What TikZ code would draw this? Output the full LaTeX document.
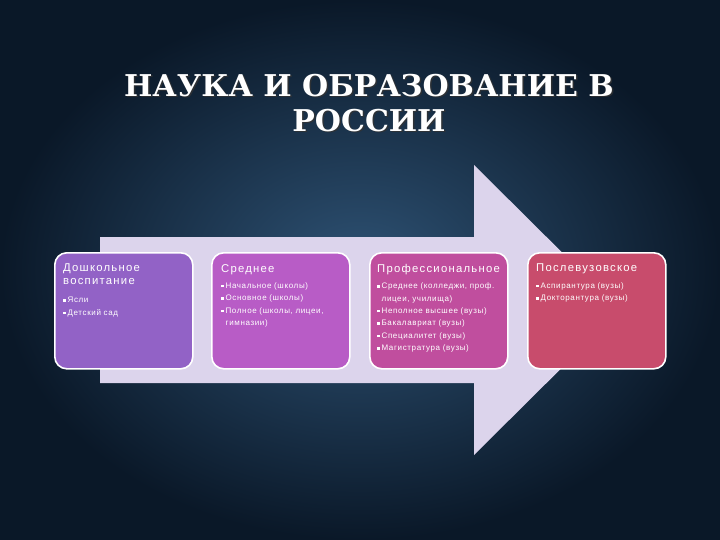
\documentclass[tikz,border=0pt]{standalone}
\usepackage{fontspec}
\setmainfont{Liberation Sans}
\newfontfamily\titlefont{DejaVu Serif}
\newfontfamily\itemfont[LetterSpace=8]{Liberation Sans}
\newfontfamily\headfont[LetterSpace=11]{Liberation Sans}
\usetikzlibrary{shadings}
\definecolor{bgin}{HTML}{2E5274}
\definecolor{bgout}{HTML}{0A1828}
\definecolor{arrowc}{HTML}{DCD4EC}
\definecolor{cA}{HTML}{9262C6}
\definecolor{cB}{HTML}{B85CC6}
\definecolor{cC}{HTML}{C04E9E}
\definecolor{cD}{HTML}{C84C6C}
\newcommand\bul{\rule[0.3ex]{2.4pt}{2.4pt}\hspace{2pt}}
\newcommand\hd{\headfont\fontsize{11.3pt}{15pt}\selectfont}
\tikzset{
  card/.style={draw=white, line width=1.6pt, rounded corners=12pt, minimum width=138pt, minimum height=116pt, anchor=north west, inner sep=0pt},
  cardtext/.style={anchor=north west, align=left, text=white, text width=130pt, inner sep=0pt, font=\itemfont\fontsize{8pt}{12.4pt}\selectfont},
  titletext/.style={font=\titlefont\bfseries\fontsize{30pt}{35pt}\selectfont, align=center}
}
\begin{document}
\begin{tikzpicture}[x=1pt,y=-1pt]
\useasboundingbox (0,0) rectangle (720,540);
\shade[inner color=bgin, outer color=bgout] (0,0) rectangle (720,540);
% title
\node[titletext, text=black!80, opacity=0.8] (titleshadow) at (370.5,104.5) {НАУКА И ОБРАЗОВАНИЕ В\\РОССИИ};
\node[titletext, text=white] (title) at (369,103) {НАУКА И ОБРАЗОВАНИЕ В\\РОССИИ};
% big arrow
\fill[arrowc] (100,237) -- (474,237) -- (474,165) -- (620,310) -- (474,455) -- (474,383) -- (100,383) -- cycle;
% cards
\node[card, fill=cA] (b1) at (54,252) {};
\node[card, fill=cB] (b2) at (211,252) {};
\node[card, fill=cC] (b3) at (369,252) {};
\node[card, fill=cD] (b4) at (527,252) {};
\node[cardtext] (t1) at ([shift={(9,12)}]b1.north west) {{\hd Дошкольное\\воспитание}\\[6pt]\bul Ясли\\\bul Детский сад};
\node[cardtext] (t2) at ([shift={(10,12)}]b2.north west) {{\hd Среднее}\\[4pt]\bul Начальное (школы)\\\bul Основное (школы)\\\bul Полное (школы, лицеи,\\\hspace{4.5pt}гимназии)};
\node[cardtext] (t3) at ([shift={(8,12)}]b3.north west) {{\hd Профессиональное}\\[4pt]\bul Среднее (колледжи, проф.\\\hspace{4.5pt}лицеи, училища)\\\bul Неполное высшее (вузы)\\\bul Бакалавриат (вузы)\\\bul Специалитет (вузы)\\\bul Магистратура (вузы)};
\node[cardtext] (t4) at ([shift={(9,12)}]b4.north west) {{\hd Послевузовское}\\[4pt]\bul Аспирантура (вузы)\\\bul Докторантура (вузы)};
\end{tikzpicture}
\end{document}
